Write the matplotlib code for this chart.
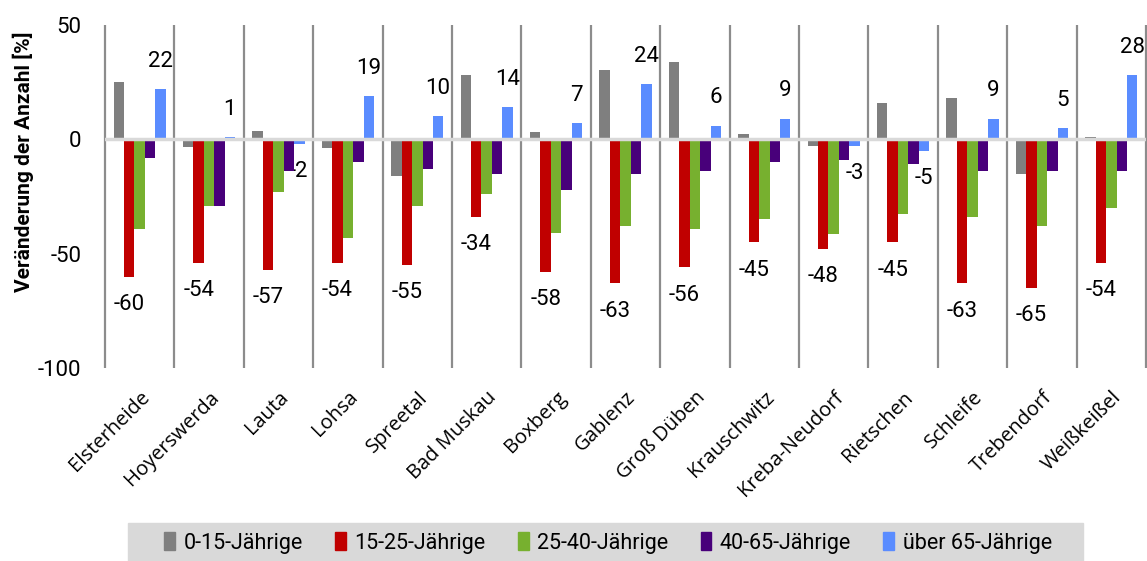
import numpy as np
import matplotlib.pyplot as plt
from matplotlib.patches import Rectangle

narrow = 'Roboto'

orte = ["Elsterheide", "Hoyerswerda", "Lauta", "Lohsa", "Spreetal", "Bad Muskau",
        "Boxberg", "Gablenz", "Groß Düben", "Krauschwitz", "Kreba-Neudorf",
        "Rietschen", "Schleife", "Trebendorf", "Weißkeißel"]
gruppen = ["0-15-Jährige", "15-25-Jährige", "25-40-Jährige", "40-65-Jährige", "über 65-Jährige"]

age_0_15 = [25, -3.5, 3.5, -4, -16, 28, 3, 30.5, 34, 2.5, -3, 16, 18, -15, 1]
age_15_25 = [-60, -54, -57, -54, -55, -34, -58, -63, -56, -45, -48, -45, -63, -65, -54]
age_25_40 = [-39, -29, -23, -43, -29, -24, -41, -38, -39, -35, -41.5, -32.5, -34, -38, -30]
age_40_65 = [-8, -29, -14, -10, -13, -15, -22, -15, -14, -10, -9, -11, -14, -14, -14]
age_65 = [22, 1, -2, 19, 10, 14, 7, 24, 6, 9, -3, -5, 9, 5, 28]

series = [age_0_15, age_15_25, age_25_40, age_40_65, age_65]
colors = ['#7f7f7f', '#c00000', '#77b02f', '#48007a', '#5a8cff']

W, H = 1147, 561
fig = plt.figure(figsize=(W / 100, H / 100), dpi=100)
ax = fig.add_axes([105 / W, 1 - 368 / H, (1146 - 105) / W, (368 - 25) / H])

x = np.arange(len(orte))
bw = 0.15
for k, (vals, col) in enumerate(zip(series, colors)):
    ax.bar(x + (k - 2) * bw, vals, bw, color=col, zorder=2)

# data labels for 15-25 and over 65
for i in x:
    for k in (1, 4):
        v = series[k][i]
        off = 20 if v >= 0 else -20
        ax.annotate(f"{v:g}", (i + (k - 2) * bw, v), xytext=(0, off),
                    textcoords='offset points', ha='center', va='center',
                    fontsize=16, family=narrow, zorder=1)

ax.vlines(np.arange(len(orte) + 1) - 0.5, -100, 50, color='#8c8c8c', lw=1.6,
          zorder=1, clip_on=False)
ax.axhline(0, color='#d9d9d9', lw=2.5, zorder=3)

ax.set_xlim(-0.5, len(orte) - 0.5)
ax.set_ylim(-100, 50)
for s in ax.spines.values():
    s.set_visible(False)
ax.set_yticks([-100, -50, 0, 50])
ax.set_yticklabels(["-100", "-50", "0", "50"], family=narrow, fontsize=16)
ax.tick_params(axis='y', length=0, pad=17)
ax.set_xticks(x)
ax.set_xticklabels(orte, rotation=45, ha='right', rotation_mode='anchor',
                   family='Open Sans', fontsize=14.5)
ax.tick_params(axis='x', length=0, pad=14)

fig.text(23 / W, 1 - 162 / H, "Veränderung der Anzahl [%]", rotation=90,
         ha='center', va='center', fontsize=15, fontweight='bold', family=narrow)

# legend box
fig.patches.append(Rectangle((128 / W, 0), (1083 - 128) / W, 38 / H,
                             transform=fig.transFigure, color='#d9d9d9', zorder=0))
handles = [Rectangle((0, 0), 1, 1, color=c) for c in colors]
fig.legend(handles, gruppen, loc='center', bbox_to_anchor=(608 / W, 1 - 543 / H),
           ncol=5, frameon=False, prop={'family': narrow, 'size': 15.5},
           handlelength=0.5, handleheight=0.9, handletextpad=0.4, columnspacing=1.5)

fig.savefig("out.png", dpi=100)
